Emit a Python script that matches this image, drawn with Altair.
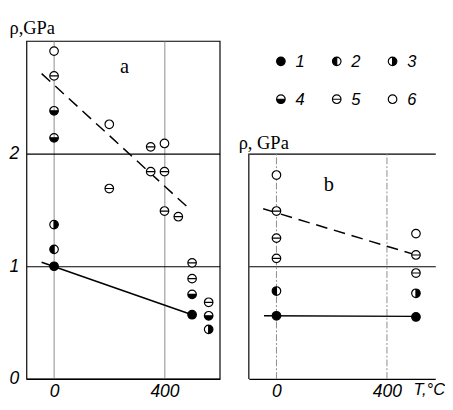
import altair as alt
import pandas as pd

# ---------------- data ----------------
# panel a : specimen type, temperature (deg C), pressure (GPa)
a_type = ["6", "5", "4", "4", "3", "2", "1",
          "6", "5",
          "5", "5",
          "6", "5", "5",
          "5",
          "5", "5", "4", "1",
          "5", "4", "3"]
a_T = [0, 0, 0, 0, 0, 0, 0,
       200, 200,
       350, 350,
       400, 400, 400,
       450,
       500, 500, 500, 500,
       560, 560, 560]
a_p = [2.91, 2.69, 2.38, 2.14, 1.37, 1.15, 1.00,
       2.26, 1.69,
       2.06, 1.84,
       2.09, 1.84, 1.49,
       1.44,
       1.03, 0.89, 0.75, 0.57,
       0.68, 0.56, 0.44]

# panel b
b_type = ["6", "5", "5", "5", "2", "1",
          "6", "5", "5", "3", "1"]
b_T = [0, 0, 0, 0, 0, 0,
       505, 505, 505, 505, 505]
b_p = [1.81, 1.49, 1.25, 1.07, 0.78, 0.56,
       1.29, 1.10, 0.94, 0.76, 0.55]

# trend lines (end points)
a_solid_T = [-45, 500]
a_solid_p = [1.035, 0.57]
a_dash_T = [-45, 490]
a_dash_p = [2.71, 1.51]
b_solid_T = [-45, 505]
b_solid_p = [0.56, 0.555]
b_dash_T = [-48, 505]
b_dash_p = [1.51, 1.10]

types = ["1", "2", "3", "4", "5", "6"]
legend_col = [0, 1, 2, 0, 1, 2]
legend_row = [0, 0, 0, 1, 1, 1]
x_ticks = [0, 400]
a_y_ticks = [0, 1, 2]
b_y_grid = [1, 2]

panel_labels_a = (["a"], [255], [2.77])
panel_labels_b = (["b"], [190], [1.72])

# ---------------- symbols ----------------
CIRC = "M 0 -1 A 1 1 0 0 1 0 1 A 1 1 0 0 1 0 -1 Z "
shape_range = [
    "circle",                                         # 1 full
    CIRC + "M 0 -1 L 0 1 A 1 1 0 0 0 0 -1 Z",         # 2 left half dark
    CIRC + "M 0 1 L 0 -1 A 1 1 0 0 0 0 1 Z",          # 3 right half dark
    CIRC + "M -1 0 L 1 0 A 1 1 0 0 0 -1 0 Z",         # 4 lower half dark
    CIRC + "M -1 0 L 1 0",                            # 5 bar
    "circle",                                         # 6 open
]
fill_range = ["black", "black", "black", "black", "white", "white"]

dfa = pd.DataFrame({"type": a_type, "T": a_T, "p": a_p})
dfb = pd.DataFrame({"type": b_type, "T": b_T, "p": b_p})
dfl = pd.DataFrame({"type": types, "col": legend_col, "row": legend_row})

SERIF = "Liberation Serif"
SANS = "Liberation Sans"
SIZE = 78

shape_enc = alt.Shape("type:N", scale=alt.Scale(domain=types, range=shape_range),
                      legend=None)
fill_enc = alt.Fill("type:N", scale=alt.Scale(domain=types, range=fill_range),
                    legend=None)


def points(df):
    return alt.Chart(df).mark_point(
        filled=True, stroke="black", strokeWidth=1.2, opacity=1, size=SIZE
    ).encode(x="T:Q", y="p:Q", shape=shape_enc, fill=fill_enc)


def line(Ts, ps, dash=None):
    df = pd.DataFrame({"T": Ts, "p": ps})
    kw = dict(color="black", strokeWidth=1.5)
    if dash:
        kw["strokeDash"] = dash
    return alt.Chart(df).mark_line(**kw).encode(x="T:Q", y="p:Q")


def label(lab):
    df = pd.DataFrame({"t": lab[0], "T": lab[1], "p": lab[2]})
    return alt.Chart(df).mark_text(font=SERIF, fontSize=21, color="black").encode(
        x="T:Q", y="p:Q", text="t:N")


# ---------------- panel a ----------------
xa = alt.X("T:Q", scale=alt.Scale(domain=[-100, 600], nice=False, zero=False),
           axis=alt.Axis(values=x_ticks, grid=True, gridColor="#8a8a8a", gridWidth=1,
                         ticks=False, domain=False, labelPadding=4, title=None,
                         format="d"))
ya = alt.Y("p:Q", scale=alt.Scale(domain=[0, 3], nice=False),
           axis=alt.Axis(values=a_y_ticks, grid=True, gridColor="black", gridWidth=1.2,
                         ticks=False, domain=False, labelPadding=8, format="d",
                         title="ρ,GPa", titleAngle=0, titleX=-18, titleY=-8,
                         titleAlign="left", titleBaseline="alphabetic",
                         titleFont=SERIF, titleFontWeight="normal", titleFontSize=19))

base_a = alt.Chart(dfa).mark_point(opacity=0).encode(x=xa, y=ya)
panel_a = alt.layer(
    base_a,
    line(a_solid_T, a_solid_p),
    line(a_dash_T, a_dash_p, [12, 7]),
    points(dfa),
    label(panel_labels_a),
).properties(width=199, height=348,
             view=alt.ViewBackground(stroke="black", strokeWidth=1.2))

# ---------------- panel b ----------------
xb = alt.X("T:Q", scale=alt.Scale(domain=[-100, 575], nice=False, zero=False),
           axis=alt.Axis(values=x_ticks, grid=False, ticks=False, domain=True,
                         domainColor="black", domainWidth=1.2, labelPadding=4,
                         format="d",
                         title="T,°C", titleX=169, titleY=16, titleAlign="left",
                         titleBaseline="alphabetic", titleFont=SANS,
                         titleFontStyle="italic", titleFontWeight="normal",
                         titleFontSize=17))
yb = alt.Y("p:Q", scale=alt.Scale(domain=[0, 3], nice=False),
           axis=alt.Axis(values=b_y_grid, grid=True, gridColor="black", gridWidth=1.2,
                         ticks=False, domain=False, labels=False,
                         title="ρ, GPa", titleAngle=0, titleX=-11, titleY=111,
                         titleAlign="left", titleBaseline="alphabetic",
                         titleFont=SERIF, titleFontWeight="normal", titleFontSize=19))

vgrid = pd.DataFrame({"T": x_ticks, "p0": [0, 0], "p1": [2, 2]})
frame = pd.DataFrame({"T": [-100], "p0": [0], "p1": [2]})

base_b = alt.Chart(dfb).mark_point(opacity=0).encode(x=xb, y=yb)
main_b = alt.layer(
    base_b,
    alt.Chart(vgrid).mark_rule(color="#8a8a8a", strokeWidth=1, strokeDash=[7, 2, 2, 2]).encode(
        x="T:Q", y="p0:Q", y2="p1:Q"),
    alt.Chart(frame).mark_rule(color="black", strokeWidth=1.2).encode(
        x="T:Q", y="p0:Q", y2="p1:Q"),
    line(b_solid_T, b_solid_p),
    line(b_dash_T, b_dash_p, [12, 7]),
    points(dfb),
    label(panel_labels_b),
)

# legend (key) drawn as its own small layer with its own layout scales
lx = alt.X("col:Q", scale=alt.Scale(domain=[0, 2], range=[33, 148]), axis=None)
ly = alt.Y("row:Q", scale=alt.Scale(domain=[0, 1], range=[21, 60]), axis=None)
key = alt.layer(
    alt.Chart(dfl).mark_point(filled=True, stroke="black", strokeWidth=1.2,
                              opacity=1, size=SIZE).encode(
        x=lx, y=ly, shape=shape_enc, fill=fill_enc),
    alt.Chart(dfl).mark_text(font=SANS, fontStyle="italic", fontSize=17, align="left",
                             baseline="middle", dx=15, dy=1, color="black").encode(
        x=lx, y=ly, text="type:N"),
)

panel_b = alt.layer(main_b, key).resolve_scale(
    x="independent", y="independent"
).properties(width=192, height=348, view=alt.ViewBackground(stroke=None))

chart = alt.hconcat(panel_a, panel_b, spacing=18).resolve_scale(
    shape="independent", fill="independent"
).properties(padding={"left": 0, "top": 4, "right": 0, "bottom": 0},
             background="white").configure_axis(
    labelFont=SANS, labelFontStyle="italic", labelFontSize=18, labelColor="black",
    titleColor="black"
)

chart.save("out.html", embed_options={"renderer": "svg", "actions": False})
